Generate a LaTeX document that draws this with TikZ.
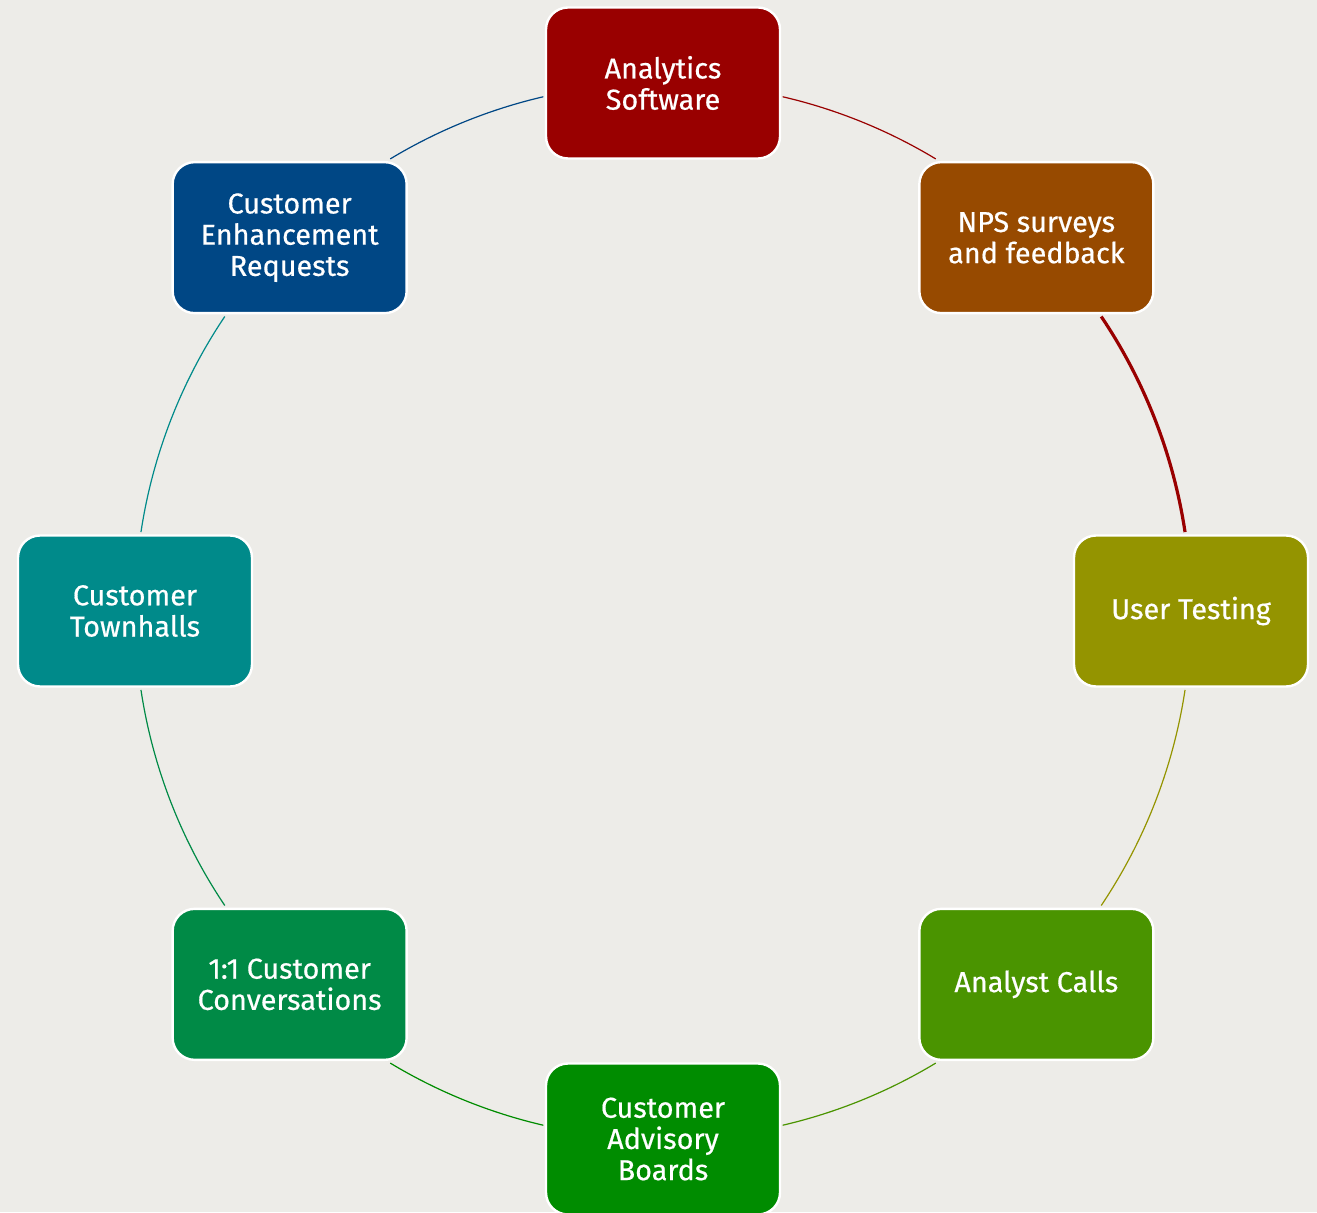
\documentclass[tikz,border=0pt]{standalone}
\usepackage{fontspec}
\setmainfont{Fira Sans}
\newfontfamily\boxfont{Fira Sans}[FakeBold=0.5]
\definecolor{bg}{HTML}{EDECE8}
\definecolor{cAn}{HTML}{990000}
\definecolor{cNps}{HTML}{974A00}
\definecolor{cUt}{HTML}{949400}
\definecolor{cAc}{HTML}{4A9400}
\definecolor{cAb}{HTML}{008C00}
\definecolor{cOo}{HTML}{008A46}
\definecolor{cTh}{HTML}{008A8A}
\definecolor{cEr}{HTML}{004785}
\tikzset{
  box/.style={draw=white, line width=1.2pt, rounded corners=11pt,
    minimum width=117pt, minimum height=75.5pt, align=center,
    text=white, font=\boxfont\fontsize{14.4}{15.6}\selectfont},
  conn/.style={line width=0.6pt},
}
\begin{document}
\begin{tikzpicture}[x=0.5pt,y=0.5pt]
\fill[bg] (0,0) rectangle (1317,1212);
\useasboundingbox (0,0) rectangle (1317,1212);
\coordinate (O) at (663,601);
\path (O) ++(90:264pt)  node[box, fill=cAn] (an) {Analytics\\Software};
\path (O) ++(45:264pt)  node[box, fill=cNps] (nps) {NPS surveys\\and feedback};
\path (O) ++(0:264pt)   node[box, fill=cUt] (ut) {User Testing};
\path (O) ++(-45:264pt) node[box, fill=cAc] (ac) {Analyst Calls};
\path (O) ++(-90:264pt) node[box, fill=cAb] (ab) {Customer\\Advisory\\Boards};
\path (O) ++(-135:264pt) node[box, fill=cOo] (oo) {1:1 Customer\\Conversations};
\path (O) ++(180:264pt) node[box, fill=cTh] (th) {Customer\\Townhalls};
\path (O) ++(135:264pt) node[box, fill=cEr] (er) {Customer\\Enhancement\\Requests};
% arcs along the circle, clockwise
\draw[conn, cEr] (O) ++(121.1:264pt) arc[start angle=121.1, end angle=103.1, radius=264pt];
\draw[conn, cAn] (O) ++(76.9:264pt) arc[start angle=76.9, end angle=58.9, radius=264pt];
\draw[line width=1.6pt, cAn] (O) ++(33.9:264pt) arc[start angle=33.9, end angle=8.6, radius=264pt];
\draw[conn, cUt] (O) ++(-8.6:264pt) arc[start angle=-8.6, end angle=-33.9, radius=264pt];
\draw[conn, cAc] (O) ++(-58.9:264pt) arc[start angle=-58.9, end angle=-76.9, radius=264pt];
\draw[conn, cAb] (O) ++(-103.1:264pt) arc[start angle=-103.1, end angle=-121.1, radius=264pt];
\draw[conn, cOo] (O) ++(-146.1:264pt) arc[start angle=-146.1, end angle=-171.4, radius=264pt];
\draw[conn, cTh] (O) ++(171.4:264pt) arc[start angle=171.4, end angle=146.1, radius=264pt];
\end{tikzpicture}
\end{document}
